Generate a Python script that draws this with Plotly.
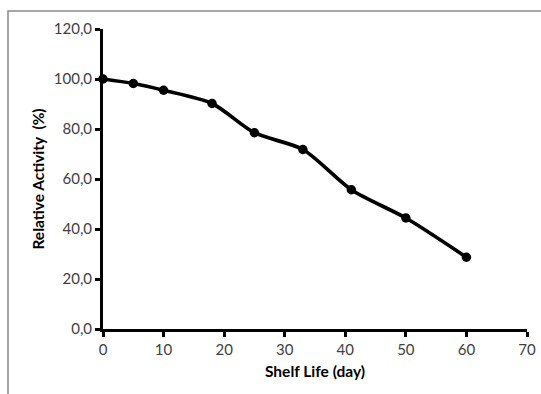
import plotly.graph_objects as go

shelf_life_days = [0, 5, 10, 18, 25, 33, 41, 50, 60]
relative_activity = [100.0, 98.2, 95.5, 90.2, 78.5, 71.8, 55.7, 44.4, 28.7]

y_tick_vals = [0, 20, 40, 60, 80, 100, 120]
y_tick_text = ["0,0", "20,0", "40,0", "60,0", "80,0", "100,0", "120,0"]
x_tick_vals = [0, 10, 20, 30, 40, 50, 60, 70]

font_family = "Lato, 'Open Sans', sans-serif"

W, H = 541, 394
L, R, T, B = 103, 14, 29, 65
pw, ph = W - L - R, H - T - B

fig = go.Figure()
fig.add_trace(go.Scatter(
    x=shelf_life_days, y=relative_activity,
    mode="lines+markers",
    line=dict(color="black", width=3.7, shape="spline", smoothing=0.8),
    marker=dict(color="black", size=9.5),
    showlegend=False,
    cliponaxis=False,
))

fig.update_layout(
    width=W, height=H,
    margin=dict(l=L, r=R, t=T, b=B, autoexpand=False),
    paper_bgcolor="white", plot_bgcolor="white",
    font=dict(family=font_family, size=15, color="#404040"),
    shapes=[dict(type="rect", xref="paper", yref="paper",
                 x0=(8 - L) / pw, x1=1.2, y0=-0.4, y1=(ph + T - 11) / ph,
                 line=dict(color="#8a8a8a", width=1.5), layer="below")],
)
fig.update_xaxes(
    range=[0, 70], tickvals=x_tick_vals,
    showgrid=False, zeroline=False,
    showline=True, linecolor="black", linewidth=3,
    ticks="outside", ticklen=5, tickwidth=2.5, tickcolor="black",
    tickfont=dict(size=15, color="#404040"),
    ticklabeloverflow="allow",
    title=dict(text="<b>Shelf Life (day)</b>", font=dict(size=15.5, color="black"), standoff=10),
)
fig.update_yaxes(
    range=[0, 120], tickvals=y_tick_vals, ticktext=y_tick_text,
    showgrid=False, zeroline=False,
    showline=True, linecolor="black", linewidth=3,
    ticks="outside", ticklen=5, tickwidth=2.5, tickcolor="black",
    tickfont=dict(size=15, color="#404040"),
    title=dict(text="<b>Relative Activity  (%)</b>", font=dict(size=15.5, color="black"), standoff=6),
)

fig.write_html("out.html", config={"displayModeBar": False},
               post_script="document.body.style.margin='0';")
